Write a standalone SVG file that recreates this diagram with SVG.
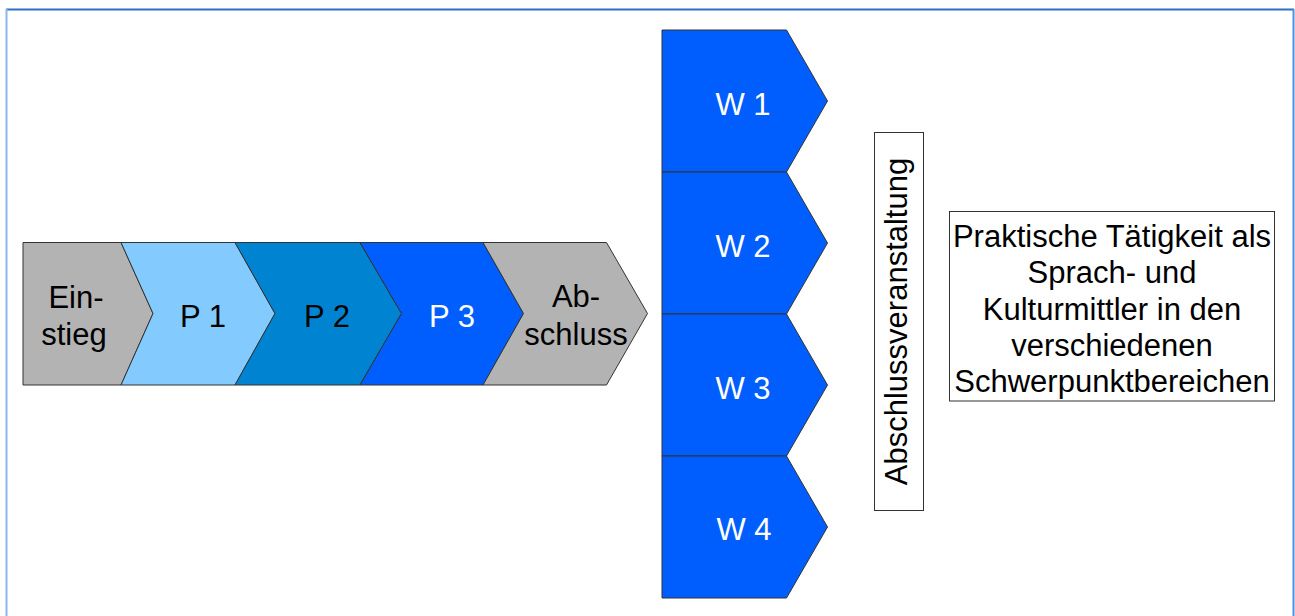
<svg xmlns="http://www.w3.org/2000/svg" width="1295" height="616" viewBox="0 0 1295 616">
  <style>
    .shape { stroke: #333333; stroke-width: 1; stroke-linejoin: miter; }
    .grey { fill: #b3b3b3; }
    .p1 { fill: #83caff; }
    .p2 { fill: #0084d1; }
    .blue { fill: #005eff; }
    .box { fill: #ffffff; stroke: #333333; stroke-width: 1; }
    .lbl { font-family: "Liberation Sans", Arial, sans-serif; font-size: 31px; text-anchor: middle; fill: #000000; }
    .white { fill: #ffffff; }
  </style>

  <rect x="0" y="0" width="1295" height="616" fill="#ffffff"/>

  <!-- page frame -->
  <g id="frame" fill="none" stroke-width="2">
    <line x1="6" y1="9.5" x2="1294" y2="9.5" stroke="#2f6fc6"/>
    <line x1="6.5" y1="9" x2="6.5" y2="616" stroke="#8ab6ee"/>
    <line x1="1293.5" y1="9" x2="1293.5" y2="616" stroke="#4d90e6"/>
  </g>

  <!-- main sequence -->
  <g id="einstieg">
    <polygon class="shape grey" points="23,242.5 121,242.5 153,313.5 121,385 23,385"/>
    <text class="lbl" x="76" y="308">Ein-</text>
    <text class="lbl" x="74" y="345">stieg</text>
  </g>
  <g id="p1">
    <polygon class="shape p1" points="121,242.5 235,242.5 275,313.5 235,385 121,385 153,313.5"/>
    <text class="lbl" x="203" y="326.5">P 1</text>
  </g>
  <g id="p2">
    <polygon class="shape p2" points="235,242.5 360,242.5 401.5,313.5 360,385 235,385 275,313.5"/>
    <text class="lbl" x="327" y="326.5">P 2</text>
  </g>
  <g id="p3">
    <polygon class="shape blue" points="360,242.5 483,242.5 523.5,313.5 483,385 360,385 401.5,313.5"/>
    <text class="lbl white" x="452" y="326.5">P 3</text>
  </g>
  <g id="abschluss">
    <polygon class="shape grey" points="483,242.5 606.5,242.5 647.5,313.5 606.5,385 483,385 523.5,313.5"/>
    <text class="lbl" x="576" y="306.5">Ab-</text>
    <text class="lbl" x="576" y="345">schluss</text>
  </g>

  <!-- elective modules -->
  <g id="w1">
    <polygon class="shape blue" points="662,30 786.5,30 827.5,101 786.5,172 662,172"/>
    <text class="lbl white" x="743" y="115">W 1</text>
  </g>
  <g id="w2">
    <polygon class="shape blue" points="662,172 786.5,172 827.5,243 786.5,314 662,314"/>
    <text class="lbl white" x="743" y="257">W 2</text>
  </g>
  <g id="w3">
    <polygon class="shape blue" points="662,314 786.5,314 827.5,385 786.5,456 662,456"/>
    <text class="lbl white" x="743" y="399">W 3</text>
  </g>
  <g id="w4">
    <polygon class="shape blue" points="662,456 786.5,456 827.5,527 786.5,598 662,598"/>
    <text class="lbl white" x="744" y="540">W 4</text>
  </g>

  <!-- final event, vertical label -->
  <g id="abschlussveranstaltung">
    <rect class="box" x="874.5" y="132.5" width="49" height="378"/>
    <text class="lbl" transform="translate(907,321.5) rotate(-90)" x="0" y="0">Abschlussveranstaltung</text>
  </g>

  <!-- practical work -->
  <g id="praxis">
    <rect class="box" x="949.5" y="211.5" width="325" height="189.5"/>
    <text class="lbl" x="1112" y="247">Praktische Tätigkeit als</text>
    <text class="lbl" x="1112" y="283">Sprach- und</text>
    <text class="lbl" x="1112" y="319.5">Kulturmittler in den</text>
    <text class="lbl" x="1112" y="355.5">verschiedenen</text>
    <text class="lbl" x="1112" y="392">Schwerpunktbereichen</text>
  </g>

  <g id="connectors"></g>
</svg>
